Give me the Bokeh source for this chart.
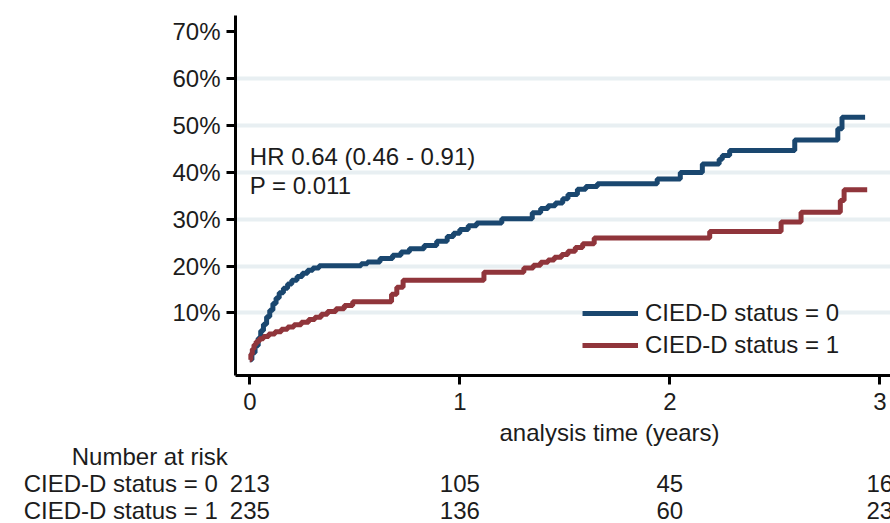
from bokeh.plotting import figure
from bokeh.models import Range1d, FixedTicker, Legend, LegendItem, ColumnDataSource
from bokeh.layouts import column
from bokeh.embed import file_html
from bokeh.resources import INLINE
from bokeh.core.properties import value

# ---------------- data ----------------
group_labels = ["CIED-D status = 0", "CIED-D status = 1"]

# cumulative incidence (%) step functions
t0 = [0, 0.01, 0.025, 0.04, 0.052, 0.065, 0.08, 0.095, 0.11, 0.125, 0.14, 0.16, 0.18, 0.2,
      0.225, 0.25, 0.275, 0.3, 0.33, 0.53, 0.56, 0.62, 0.68, 0.72, 0.76, 0.83, 0.89, 0.94,
      0.97, 1.0, 1.04, 1.08, 1.2, 1.345, 1.385, 1.42, 1.455, 1.49, 1.515, 1.56, 1.6, 1.655,
      1.94, 2.05, 2.155, 2.235, 2.25, 2.285, 2.595, 2.8, 2.82, 2.93]
cum0 = [0, 1.5, 3.0, 4.6, 6.2, 7.6, 9.2, 10.6, 12.0, 13.2, 14.3, 15.3, 16.2, 17.0,
        17.8, 18.5, 19.1, 19.6, 20.1, 20.5, 20.9, 21.6, 22.3, 23.0, 23.7, 24.4, 25.3, 26.3,
        27.0, 27.8, 28.6, 29.2, 30.1, 31.4, 32.3, 32.9, 33.5, 34.4, 35.3, 36.4, 37.0, 37.6,
        38.6, 40.0, 41.8, 42.8, 43.6, 44.7, 46.9, 49.3, 51.8, 51.8]

t1 = [0, 0.005, 0.012, 0.02, 0.03, 0.045, 0.065, 0.09, 0.12, 0.15, 0.18, 0.21, 0.245, 0.28,
      0.31, 0.34, 0.37, 0.41, 0.45, 0.49, 0.675, 0.7, 0.73, 1.115, 1.305, 1.35, 1.385, 1.42,
      1.45, 1.485, 1.515, 1.55, 1.585, 1.64, 2.19, 2.53, 2.625, 2.812, 2.83, 2.94]
cum1 = [0, 1.2, 2.3, 3.2, 3.9, 4.5, 5.0, 5.5, 6.0, 6.5, 7.0, 7.5, 8.0, 8.6,
        9.1, 9.7, 10.3, 10.9, 11.6, 12.4, 14.0, 15.5, 17.0, 18.7, 19.6, 20.2, 20.8, 21.3,
        21.9, 22.5, 23.2, 24.0, 24.8, 26.0, 27.4, 29.4, 31.5, 34.0, 36.3, 36.3]

risk_times = [0, 1, 2, 3]
risk0 = [213, 105, 45, 16]
risk1 = [235, 136, 60, 23]

x_ticks = [0, 1, 2, 3]
y_ticks = [10, 20, 30, 40, 50, 60, 70]
y_tick_labels = ["10%", "20%", "30%", "40%", "50%", "60%", "70%"]
grid_ticks = [10, 20, 30, 40, 50, 60]

hr_lines = ["HR 0.64 (0.46 - 0.91)", "P = 0.011"]
hr_y = [43.4, 37.2]
x_title = "analysis time (years)"
x_title_pos = 1.713
risk_title = "Number at risk"

# ---------------- style ----------------
FONT = "Liberation Sans"
FS = "24px"
TEXT = "#1c1c1c"
BLUE = "#1A476F"
RED = "#90353B"
GRID = "#E8EFF2"

W = 890
H1, H2 = 418, 105
PPU = 210.0          # pixels per year
LEFT = 235           # frame left (px)
X0_PX = 249.3        # px of t = 0
FRAME_TOP, FRAME_BOTTOM = 15, 375
x_start = -(X0_PX - LEFT) / PPU
x_end = (W - X0_PX) / PPU

p = figure(width=W, height=H1, output_backend="svg", toolbar_location=None,
           x_range=Range1d(x_start, x_end), y_range=Range1d(-3.35, 73.5),
           min_border_left=LEFT, min_border_right=0, min_border_top=FRAME_TOP,
           min_border_bottom=H1 - FRAME_BOTTOM, frame_align=False)
p.background_fill_color = "white"
p.border_fill_color = "white"
p.outline_line_color = None

p.xaxis.ticker = FixedTicker(ticks=x_ticks)
p.yaxis.ticker = FixedTicker(ticks=y_ticks)
p.yaxis.major_label_overrides = {k: v for k, v in zip(y_ticks, y_tick_labels)}
for ax in (p.xaxis[0], p.yaxis[0]):
    ax.axis_line_width = 3
    ax.axis_line_color = "black"
    ax.major_tick_line_width = 3
    ax.major_tick_line_color = "black"
    ax.major_tick_out = 9
    ax.major_tick_in = 0
    ax.minor_tick_line_color = None
    ax.major_label_text_font = FONT
    ax.major_label_text_font_size = FS
    ax.major_label_text_color = TEXT
p.xaxis.major_label_standoff = 8
p.yaxis.major_label_standoff = 6
p.xgrid.visible = False
p.ygrid.ticker = FixedTicker(ticks=grid_ticks)
p.ygrid.grid_line_color = GRID
p.ygrid.grid_line_width = 4

src0 = ColumnDataSource(dict(t=t0, cum=cum0))
src1 = ColumnDataSource(dict(t=t1, cum=cum1))
r0 = p.step("t", "cum", source=src0, mode="after", line_color=BLUE, line_width=5)
r1 = p.step("t", "cum", source=src1, mode="after", line_color=RED, line_width=5)

p.text(x=[0, 0], y=hr_y, text=hr_lines, text_font=value(FONT), text_font_size=FS,
       text_color=TEXT, text_align="left", text_baseline="middle")

legend = Legend(items=[LegendItem(label=group_labels[0], renderers=[r0]),
                       LegendItem(label=group_labels[1], renderers=[r1])],
                location=(347, 16), orientation="vertical",
                label_text_font=FONT, label_text_font_size=FS, label_text_color=TEXT,
                glyph_width=56, glyph_height=28, label_height=28, label_standoff=7,
                spacing=4, padding=0, margin=0,
                background_fill_color="white", background_fill_alpha=1.0,
                border_line_color=None)
p.add_layout(legend)

# ---------------- axis title and risk table (second panel) ----------------
# rows: 0 = group 1, 1 = group 0, 2 = "Number at risk", 3 = axis title
ROW_PX = 26.67
BOTTOM_PAD = 13.5
q_start = -BOTTOM_PAD / ROW_PX
q_end = q_start + H2 / ROW_PX
q = figure(width=W, height=H2, output_backend="svg", toolbar_location=None,
           x_range=Range1d(-X0_PX / PPU, x_end), y_range=Range1d(q_start, q_end),
           x_axis_type=None, y_axis_type=None, min_border=0,
           min_border_left=0, min_border_right=0, min_border_top=0, min_border_bottom=0,
           frame_align=False)
q.background_fill_color = "white"
q.border_fill_color = "white"
q.outline_line_color = None
q.grid.visible = False

common = dict(text_font=value(FONT), text_font_size=FS, text_color=TEXT,
              text_baseline="alphabetic")
q.text(x=[x_title_pos], y=[3], text=[x_title], text_align="center", y_offset=3, **common)
q.text(x=[0], y=[2], text=[risk_title], text_align="right", x_offset=-22, **common)
q.text(x=[0, 0], y=[1, 0], text=group_labels, text_align="right", x_offset=-32, **common)
q.text(x=risk_times + risk_times, y=[1] * len(risk0) + [0] * len(risk1),
       text=[str(v) for v in risk0 + risk1], text_align="center", **common)

layout = column(p, q, spacing=0)
open("out.html", "w").write(file_html(layout, INLINE))
